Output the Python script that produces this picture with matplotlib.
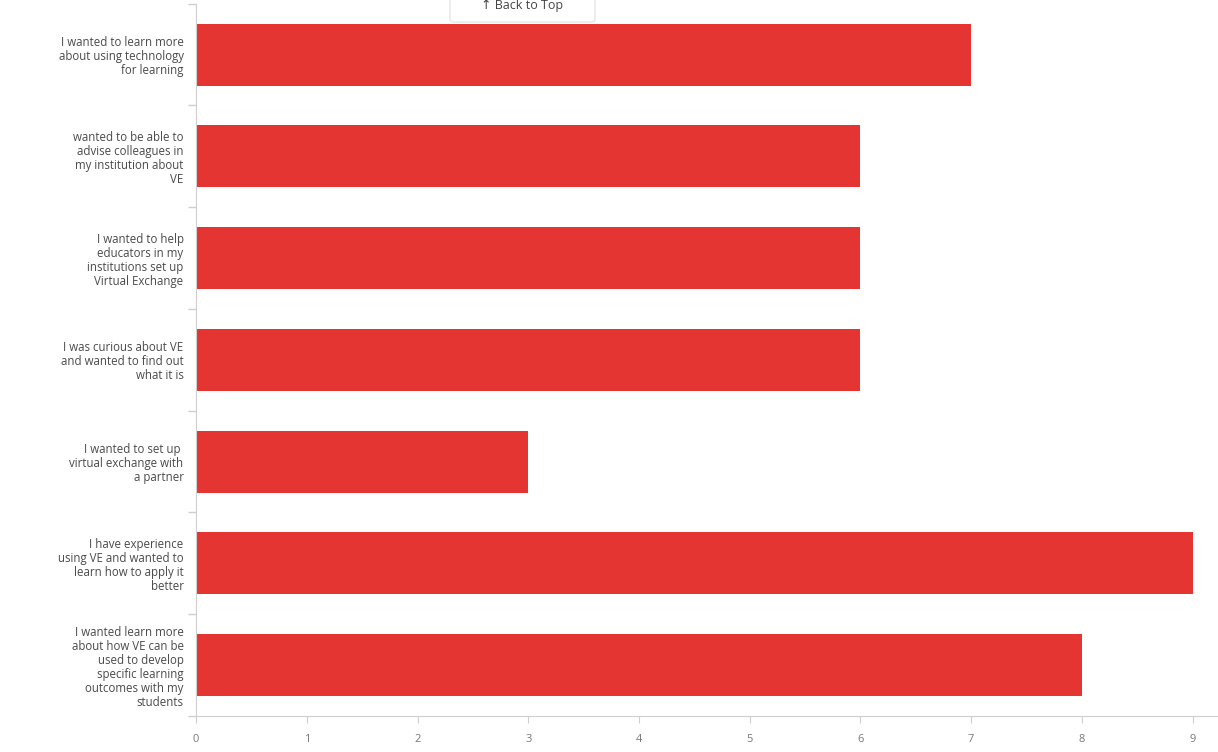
import matplotlib
matplotlib.use('Agg')
import matplotlib.pyplot as plt
from matplotlib.patches import FancyBboxPatch
import numpy as np

plt.rcParams['font.family'] = ['Open Sans', 'DejaVu Sans']

# Survey answers, top to bottom
reasons = [
    'I wanted to learn more\nabout using technology\nfor learning',
    'wanted to be able to\nadvise colleagues in\nmy institution about\nVE',
    'I wanted to help\neducators in my\ninstitutions set up\nVirtual Exchange',
    'I was curious about VE\nand wanted to find out\nwhat it is',
    'I wanted to set up \nvirtual exchange with\na partner',
    'I have experience\nusing VE and wanted to\nlearn how to apply it\nbetter',
    'I wanted learn more\nabout how VE can be\nused to develop\nspecific learning\noutcomes with my\nstudents',
]
counts = [7, 6, 6, 6, 3, 9, 8]
x_ticks = list(range(0, 10))

bar_color = '#e43532'
axis_grey = '#cfcfcf'

fig = plt.figure(figsize=(12.18, 7.52), dpi=100, facecolor='white')
ax = fig.add_axes([0.161, 0.048, 0.839, 0.947])

ypos = np.arange(len(reasons))
ax.barh(ypos, counts, height=0.61, color=bar_color, zorder=2)

ax.set_ylim(len(reasons) - 0.5, -0.5)
ax.set_xlim(0, 9.23)

ax.set_yticks(ypos)
ax.set_yticklabels(reasons, fontsize=8.3, color='#4a4a4a', linespacing=1.1)
ax.set_yticks(np.arange(len(reasons) + 1) - 0.5, minor=True)
ax.tick_params(axis='y', which='major', length=0, pad=9)
ax.tick_params(axis='y', which='minor', length=6, color=axis_grey, width=1)

ax.set_xticks(x_ticks)
ax.tick_params(axis='x', length=5, color=axis_grey, labelsize=8,
               labelcolor='#777777', pad=8)

for side in ['top', 'right']:
    ax.spines[side].set_visible(False)
ax.spines['left'].set_color(axis_grey)
ax.spines['bottom'].set_color(axis_grey)

# floating "back to top" button, cut off by the top edge
btn = FancyBboxPatch((450 / 1218, 1 - 22 / 752), 145 / 1218, 40 / 752,
                     boxstyle='round,pad=0,rounding_size=0.004',
                     transform=fig.transFigure, facecolor='white',
                     edgecolor='#e6e6e6', linewidth=1, zorder=5)
fig.patches.append(btn)
fig.text(522 / 1218, 1 - 5 / 752, '\u2191 Back to Top', ha='center', va='center',
         fontsize=9, color='#444444', zorder=6)

fig.savefig('out.png', dpi=100, facecolor='white')
